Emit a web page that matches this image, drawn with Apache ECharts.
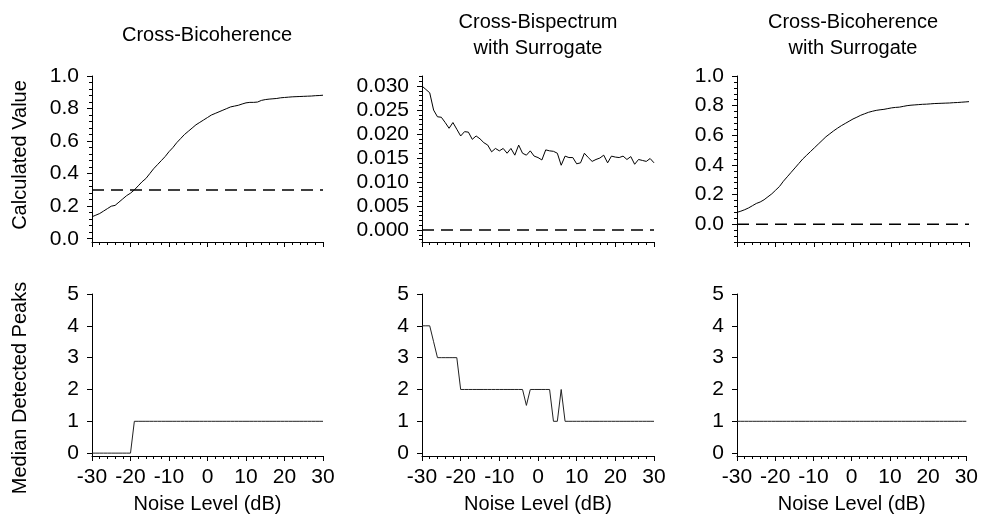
<!DOCTYPE html>
<html>
<head>
<meta charset="utf-8">
<title>Cross-Bicoherence vs Noise Level</title>
<script src="https://cdn.jsdelivr.net/npm/echarts@6/dist/echarts.min.js"></script>
<style>
  html,body{margin:0;padding:0;background:#fff;}
  #chart{width:981px;height:520px;}
</style>
</head>
<body>
<div id="chart"></div>
<script>
// noise levels (dB), shared by all six panels
var noiseDb = [-30,-29,-28,-27,-26,-25,-24,-23,-22,-21,-20,-19,-18,-17,-16,-15,-14,-13,-12,-11,
  -10,-9,-8,-7,-6,-5,-4,-3,-2,-1,0,1,2,3,4,5,6,7,8,9,10,11,12,13,14,15,16,17,18,19,20,
  21,22,23,24,25,26,27,28,29,30];

// top row: calculated values
var bicoh = [0.135,0.145,0.155,0.170,0.185,0.200,0.205,0.225,0.245,0.265,
  0.280,0.300,0.325,0.350,0.370,0.400,0.430,0.455,0.480,0.505,
  0.535,0.560,0.590,0.615,0.640,0.660,0.680,0.700,0.715,0.730,
  0.745,0.760,0.770,0.780,0.790,0.800,0.810,0.815,0.820,0.828,
  0.835,0.838,0.838,0.840,0.850,0.855,0.858,0.860,0.862,0.866,
  0.868,0.870,0.872,0.873,0.874,0.875,0.876,0.877,0.879,0.880,0.882];
var bispecSurr = [0.0300,0.0293,0.0286,0.0250,0.0236,0.0235,0.0224,0.0212,0.0224,0.0210,
  0.0196,0.0205,0.0204,0.0189,0.0196,0.0190,0.0182,0.0177,0.0163,0.0170,
  0.0165,0.0170,0.0160,0.0170,0.0156,0.0177,0.0160,0.0156,0.0165,0.0154,
  0.0151,0.0146,0.0167,0.0165,0.0164,0.0160,0.0135,0.0154,0.0151,0.0151,
  0.0138,0.0140,0.0160,0.0151,0.0143,0.0147,0.0150,0.0156,0.0140,0.0154,
  0.0152,0.0151,0.0154,0.0147,0.0153,0.0137,0.0147,0.0145,0.0143,0.0149,0.0140];
var bicohSurr = [0.080,0.088,0.098,0.110,0.125,0.140,0.150,0.165,0.185,0.205,
  0.230,0.255,0.290,0.320,0.350,0.380,0.410,0.440,0.465,0.490,
  0.515,0.540,0.565,0.590,0.610,0.630,0.648,0.665,0.680,0.695,
  0.710,0.722,0.735,0.745,0.755,0.762,0.768,0.772,0.775,0.780,
  0.785,0.788,0.790,0.795,0.800,0.803,0.805,0.807,0.809,0.810,
  0.812,0.814,0.815,0.816,0.817,0.818,0.820,0.821,0.823,0.825,0.827];
// dashed reference levels of the top row
var refLevels = [0.3, 0, 0];

// bottom row: median detected peaks
var peaksBicoh = [0,0,0,0,0,0,0,0,0,0,0,1,1,1,1,1,1,1,1,1,
  1,1,1,1,1,1,1,1,1,1,1,1,1,1,1,1,1,1,1,1,
  1,1,1,1,1,1,1,1,1,1,1,1,1,1,1,1,1,1,1,1,1];
var peaksBispecSurr = [4,4,4,3.5,3,3,3,3,3,3,2,2,2,2,2,2,2,2,2,2,
  2,2,2,2,2,2,2,1.5,2,2,2,2,2,2,1,1,2,1,1,1,
  1,1,1,1,1,1,1,1,1,1,1,1,1,1,1,1,1,1,1,1,1];
var peaksBicohSurr = [1,1,1,1,1,1,1,1,1,1,1,1,1,1,1,1,1,1,1,1,
  1,1,1,1,1,1,1,1,1,1,1,1,1,1,1,1,1,1,1,1,
  1,1,1,1,1,1,1,1,1,1,1,1,1,1,1,1,1,1,1,1,1];

var titles = ['Cross-Bicoherence', 'Cross-Bispectrum\nwith Surrogate', 'Cross-Bicoherence\nwith Surrogate'];
var xTicks = [-30, -20, -10, 0, 10, 20, 30];
var yTicksCoh = [0, 0.2, 0.4, 0.6, 0.8, 1.0];
var yTicksSpec = [0, 0.005, 0.010, 0.015, 0.020, 0.025, 0.030];
var yTicksPeaks = [0, 1, 2, 3, 4, 5];

var FONT = 'Liberation Sans, Arial, Helvetica, sans-serif';

function pairs(ys) {
  return noiseDb.map(function (x, i) { return [x, ys[i]]; });
}
// minor tick values between lo and hi that are not major ticks
function minors(lo, hi, step, majors) {
  var out = [];
  var k0 = Math.ceil(lo / step - 1e-9), k1 = Math.floor(hi / step + 1e-9);
  for (var k = k0; k <= k1; k++) {
    var v = +(k * step).toFixed(6);
    var isMajor = majors.some(function (m) { return Math.abs(m - v) < step / 10; });
    if (!isMajor) out.push(v);
  }
  return out;
}

var cols = [{left: 92, width: 231}, {left: 422, width: 232}, {left: 737, width: 232}];
var rows = [{top: 76, height: 166}, {top: 294, height: 162}];
var titleX = [207, 538, 853];

var panels = [
  {row: 0, col: 0, data: bicoh, ref: refLevels[0], min: -0.02, max: 1.0, major: yTicksCoh, step: 0.04, dec: 1},
  {row: 0, col: 1, data: bispecSurr, ref: refLevels[1], min: -0.0025, max: 0.0321, major: yTicksSpec, step: 0.001, dec: 3},
  {row: 0, col: 2, data: bicohSurr, ref: refLevels[2], min: -0.12, max: 1.0, major: yTicksCoh, step: 0.04, dec: 1},
  {row: 1, col: 0, data: peaksBicoh, min: -0.09, max: 5, major: yTicksPeaks, dec: 0},
  {row: 1, col: 1, data: peaksBispecSurr, min: -0.09, max: 5, major: yTicksPeaks, dec: 0},
  {row: 1, col: 2, data: peaksBicohSurr, min: -0.09, max: 5, major: yTicksPeaks, dec: 0}
];

var grid = [], xAxis = [], yAxis = [], series = [];
var black = '#000';

panels.forEach(function (p, i) {
  var c = cols[p.col], r = rows[p.row];
  grid.push({left: c.left, width: c.width, top: r.top, height: r.height});
  var bottomRow = p.row === 1;
  xAxis.push({
    type: 'value', gridIndex: i, position: 'bottom', min: -30, max: 30, interval: 10,
    axisLine: {onZero: false, lineStyle: {color: black, width: 1}},
    axisTick: {inside: false, length: 5, lineStyle: {color: black}},
    minorTick: {show: true, splitNumber: 5, length: 3, lineStyle: {color: black}},
    splitLine: {show: false},
    axisLabel: {show: bottomRow, fontSize: 21, color: black, margin: 11, fontFamily: FONT,
      customValues: xTicks},
    name: bottomRow ? 'Noise Level (dB)' : '',
    nameLocation: 'middle', nameGap: 38,
    nameTextStyle: {fontSize: 20, color: black, fontFamily: FONT}
  });
  var dec = p.dec;
  yAxis.push({
    type: 'value', gridIndex: i, position: 'left', min: p.min, max: p.max,
    axisLine: {show: true, onZero: false, lineStyle: {color: black, width: 1}},
    axisTick: {show: true, inside: false, length: 5, lineStyle: {color: black}, customValues: p.major},
    splitLine: {show: false},
    axisLabel: {fontSize: 21, color: black, margin: 13, fontFamily: FONT, customValues: p.major,
      formatter: function (v) { return v.toFixed(dec); }}
  });
  // second axis on the same side just for the minor ticks
  yAxis.push({
    type: 'value', gridIndex: i, position: 'left', min: p.min, max: p.max,
    axisLine: {show: false, onZero: false},
    axisTick: {show: !!p.step, inside: false, length: 3, lineStyle: {color: black},
      customValues: p.step ? minors(p.min, p.max, p.step, p.major) : []},
    axisLabel: {show: false},
    splitLine: {show: false}
  });
  series.push({
    type: 'line', xAxisIndex: i, yAxisIndex: 2 * i, data: pairs(p.data),
    showSymbol: false, symbol: 'none', silent: true,
    lineStyle: {color: bottomRow ? '#222' : black, width: 1}
  });
  if (p.ref !== undefined) {
    series.push({
      type: 'line', xAxisIndex: i, yAxisIndex: 2 * i, data: [[-30, p.ref], [30, p.ref]],
      symbol: 'none', silent: true,
      lineStyle: {color: black, width: 1.5, type: [12, 7]}
    });
  }
});

var graphic = titles.map(function (t, i) {
  return {type: 'text', x: titleX[i], y: 35,
    style: {text: t, fontSize: 20, fontFamily: FONT, fill: black,
      align: 'center', verticalAlign: 'middle', lineHeight: 26}};
});
graphic.push({type: 'text', x: 20, y: 155, rotation: Math.PI / 2,
  style: {text: 'Calculated Value', fontSize: 20, fontFamily: FONT, fill: black,
    align: 'center', verticalAlign: 'middle'}});
graphic.push({type: 'text', x: 20, y: 388, rotation: Math.PI / 2,
  style: {text: 'Median Detected Peaks', fontSize: 20, fontFamily: FONT, fill: black,
    align: 'center', verticalAlign: 'middle'}});

var chart = echarts.init(document.getElementById('chart'));
chart.setOption({
  animation: false,
  backgroundColor: '#fff',
  textStyle: {fontFamily: FONT},
  grid: grid,
  xAxis: xAxis,
  yAxis: yAxis,
  series: series,
  graphic: graphic
});
</script>
</body>
</html>
